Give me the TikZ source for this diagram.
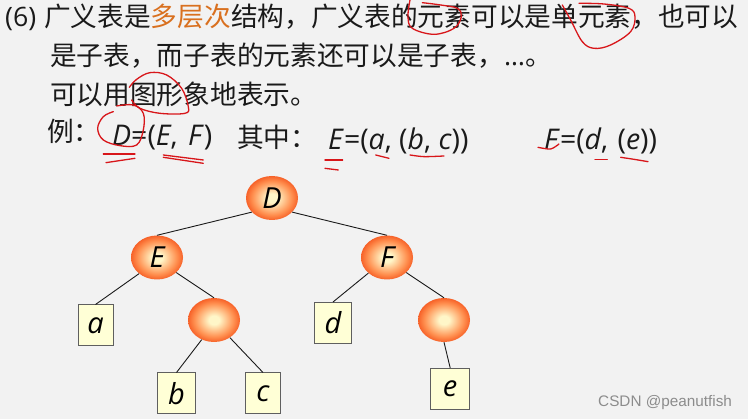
\documentclass[tikz,border=0pt]{standalone}
\usepackage{fontspec}
\setmainfont{Liberation Sans}
\newfontfamily\cjk{Noto Sans CJK SC}
\newfontfamily\lat{Open Sans}
\usetikzlibrary{shapes.geometric}
\definecolor{bgc}{HTML}{F2F2F2}
\definecolor{inkc}{HTML}{1A1A1A}
\definecolor{orangec}{HTML}{D9701F}
\definecolor{redpen}{HTML}{D8161A}
\definecolor{boxfill}{HTML}{FFFFD6}
\definecolor{boxline}{HTML}{5F5F5F}
\definecolor{ballin}{HTML}{FFF6C8}
\definecolor{ballmid}{HTML}{FF9050}
\definecolor{ballout}{HTML}{F03C08}
\pgfdeclareradialshading{ballshade}{\pgfpoint{0bp}{0bp}}{color(0bp)=(ballin); color(5bp)=(ballin); color(19bp)=(ballmid); color(30bp)=(ballout); color(50bp)=(ballout)}
\tikzset{
 ball/.style={ellipse,minimum width=52pt,minimum height=44pt,inner sep=0pt,shading=ballshade,font=\lat\fontsize{29}{29}\selectfont\itshape,text=black},
 leaf/.style={rectangle,draw=boxline,line width=1pt,fill=boxfill,inner sep=0pt,font=\lat\fontsize{29}{29}\selectfont\itshape,text=black},
 txt/.style={anchor=base west,inner sep=0pt,text=inkc,font=\cjk\fontsize{26.7}{27}\selectfont},
 frm/.style={anchor=base west,inner sep=0pt,text=inkc,font=\lat\fontsize{28.5}{29}\selectfont},
 edge/.style={draw=inkc,line width=0.9pt},
 pen/.style={draw=redpen,line width=1.3pt,line cap=round,line join=round},
 zoomA/.style={x=0.3333pt,y=-0.3333pt},
 zoomB/.style={x=0.3333pt,y=-0.3333pt,shift={(374pt,0pt)}}
}
\begin{document}
\begin{tikzpicture}[x=1pt,y=-1pt]
\path[fill=bgc] (0,0) rectangle (748,419);
\useasboundingbox (0,0) rectangle (748,419);
% text
\node[txt] (l1a) at (5,27) {\lat (6)};
\node[txt] (l1b) at (44,27) {广义表是\textcolor{orangec}{多层次}结构，广义表的元素可以是单元素，也可以};
\node[txt] (l2) at (50,66) {是子表，而子表的元素还可以是子表，\lat…\cjk 。};
\node[txt] (l3) at (50,105) {可以用图形象地表示。};
\node[txt] (l4) at (47,142) {例：};
\node[frm] (f1) at (112,146) {\textit{D}=(\textit{E},\hspace{3pt} \textit{F})};
\node[txt] (l5) at (237,148) {其中：};
\node[frm] (f2) at (328,150) {\textit{E}=(\textit{a}, (\textit{b}, \textit{c}))};
\node[frm] (f3) at (544,150) {\textit{F}=(\textit{d},\hspace{2pt} (\textit{e}))};
% tree
\node[ball] (D) at (272,198) {D};
\node[ball] (E) at (157,257.5) {E};
\node[ball] (F) at (387,257.5) {F};
\node[ball] (X) at (214,320) {};
\node[ball] (Y) at (444,320) {};
\node[leaf,minimum width=35pt,minimum height=41pt] (a) at (95.5,325.5) {a};
\node[leaf,minimum width=38pt,minimum height=41pt] (b) at (176.5,393.5) {b};
\node[leaf,minimum width=35.5pt,minimum height=41pt] (c) at (263,393.5) {c};
\node[leaf,minimum width=36.5pt,minimum height=41pt] (d) at (333,323) {d};
\node[leaf,minimum width=39.5pt,minimum height=41.5pt] (e) at (450.2,389.2) {e};
\draw[edge] (D.215) -- (E.north);
\draw[edge] (D.-35) -- (F.north);
\draw[edge] (E.222) -- (a.north);
\draw[edge] (E.-38) -- (X.north);
\draw[edge] (X.238) -- (b.north);
\draw[edge] (X.-48) -- (c.north);
\draw[edge] (F.220) -- (d.north);
\draw[edge] (F.-38) -- (Y.north);
\draw[edge] (Y.south) -- (e.north);
% watermark
\node[anchor=base west,inner sep=0pt,text=black!45,font=\fontsize{15.3}{16}\selectfont] (wm) at (598,406.5) {CSDN @peanutfish};
% red pen, zoom 1 coordinates
\begin{scope}[zoomA]
\draw[pen] plot[smooth,tension=0.6] coordinates {(388,262)(410,238)(450,218)(500,225)(545,265)(565,320)(555,340)(480,340)(420,325)(395,300)};
\draw[pen] plot[smooth,tension=0.6] coordinates {(340,335)(310,350)(293,385)(310,420)(360,437)(410,435)(430,390)(430,340)(400,315)(350,318)};
\draw[pen] (310,462) -- (405,462);
\draw[pen] (318,488) -- (405,475);
\draw[pen] (490,465) -- (610,480);
\draw[pen] (490,472) -- (610,490);
\draw[pen] (975,480) -- (1028,480);
\draw[pen] (975,505) -- (1015,510);
\end{scope}
\begin{scope}[zoomB]
\draw[pen] plot[smooth,tension=0.6] coordinates {(108,0)(102,50)(115,85)(180,103)(240,85)(262,50)(250,25)(200,15)(145,8)};
\draw[pen] plot[smooth,tension=0.6] coordinates {(565,15)(590,60)(625,125)(660,145)(710,135)(770,95)(783,50)(765,25)(690,12)(615,10)};
\draw[pen] (5,465) -- (45,475);
\draw[pen] plot[smooth] coordinates {(108,465)(150,470)(210,468)};
\draw[pen] plot[smooth] coordinates {(492,442)(530,447)(555,432)};
\draw[pen] (663,478) -- (700,478);
\draw[pen] plot[smooth] coordinates {(740,472)(780,478)(822,485)};
\end{scope}
\end{tikzpicture}
\end{document}
